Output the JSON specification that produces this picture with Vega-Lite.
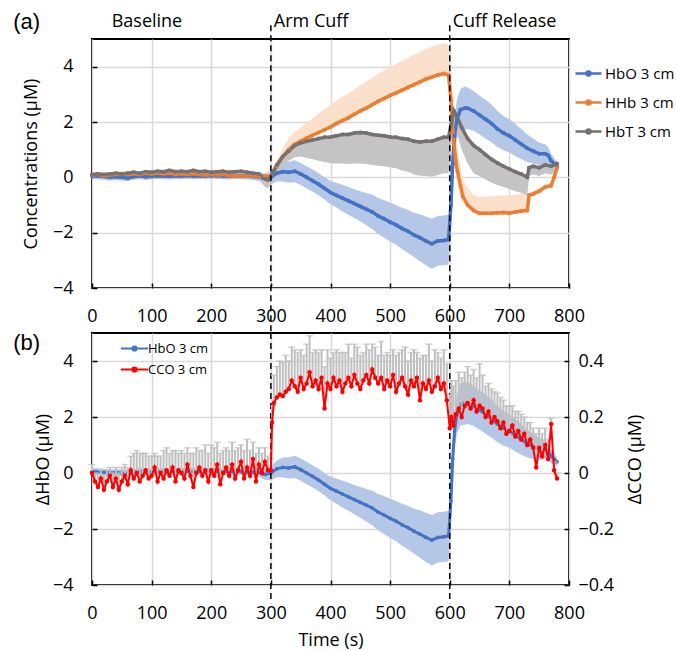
{
  "$schema": "https://vega.github.io/schema/vega-lite/v6.json",
  "padding": {"left": 12, "top": 10, "right": 0, "bottom": 0},
  "background": "white",
  "config": {
    "font": "Open Sans",
    "view": {"stroke": "#000", "strokeWidth": 2},
    "axis": {
      "labelFont": "Open Sans", "labelFontSize": 18, "labelColor": "#000",
      "titleFont": "Open Sans", "titleFontSize": 18, "titleFontWeight": "normal", "titleColor": "#000",
      "gridColor": "#d9d9d9", "gridWidth": 1.5, "domain": false,
      "tickColor": "#000", "tickSize": -5, "tickWidth": 1.5, "labelFlush": false
    },
    "axisX": {"labelPadding": 24},
    "axisY": {"labelPadding": 24},
    "legend": {"labelFont": "Open Sans", "labelColor": "#000", "symbolStrokeWidth": 2.5, "labelOffset": 2}
  },
  "datasets": {
    "hb": [
      {"t":0,"s":"HbO 3 cm","v":0.05,"lo":-0.07,"hi":0.17},{"t":10,"s":"HbO 3 cm","v":0.05,"lo":-0.07,"hi":0.17},{"t":20,"s":"HbO 3 cm","v":0.03,"lo":-0.09,"hi":0.15},{"t":30,"s":"HbO 3 cm","v":0,"lo":-0.12,"hi":0.12},{"t":40,"s":"HbO 3 cm","v":0.02,"lo":-0.1,"hi":0.14},{"t":50,"s":"HbO 3 cm","v":0,"lo":-0.12,"hi":0.12},{"t":60,"s":"HbO 3 cm","v":-0.02,"lo":-0.14,"hi":0.1},{"t":70,"s":"HbO 3 cm","v":0.03,"lo":-0.09,"hi":0.15},{"t":80,"s":"HbO 3 cm","v":0.05,"lo":-0.07,"hi":0.17},{"t":90,"s":"HbO 3 cm","v":0.02,"lo":-0.1,"hi":0.14},{"t":100,"s":"HbO 3 cm","v":0.04,"lo":-0.08,"hi":0.16},{"t":110,"s":"HbO 3 cm","v":0.06,"lo":-0.06,"hi":0.18},{"t":120,"s":"HbO 3 cm","v":0.05,"lo":-0.07,"hi":0.17},{"t":130,"s":"HbO 3 cm","v":0.04,"lo":-0.08,"hi":0.16},{"t":140,"s":"HbO 3 cm","v":0.06,"lo":-0.06,"hi":0.18},{"t":150,"s":"HbO 3 cm","v":0.05,"lo":-0.07,"hi":0.17},{"t":160,"s":"HbO 3 cm","v":0.07,"lo":-0.05,"hi":0.19},{"t":170,"s":"HbO 3 cm","v":0.05,"lo":-0.07,"hi":0.17},{"t":180,"s":"HbO 3 cm","v":0.06,"lo":-0.06,"hi":0.18},{"t":190,"s":"HbO 3 cm","v":0.05,"lo":-0.07,"hi":0.17},{"t":200,"s":"HbO 3 cm","v":0.07,"lo":-0.05,"hi":0.19},{"t":210,"s":"HbO 3 cm","v":0.06,"lo":-0.06,"hi":0.18},{"t":220,"s":"HbO 3 cm","v":0.05,"lo":-0.07,"hi":0.17},{"t":230,"s":"HbO 3 cm","v":0.04,"lo":-0.08,"hi":0.16},{"t":240,"s":"HbO 3 cm","v":0.06,"lo":-0.06,"hi":0.18},{"t":250,"s":"HbO 3 cm","v":0.05,"lo":-0.07,"hi":0.17},{"t":260,"s":"HbO 3 cm","v":0.04,"lo":-0.08,"hi":0.16},{"t":270,"s":"HbO 3 cm","v":0.03,"lo":-0.09,"hi":0.15},{"t":280,"s":"HbO 3 cm","v":0.02,"lo":-0.13,"hi":0.17},{"t":290,"s":"HbO 3 cm","v":-0.05,"lo":-0.25,"hi":0.15},{"t":300,"s":"HbO 3 cm","v":0,"lo":-0.25,"hi":0.25},{"t":310,"s":"HbO 3 cm","v":0.15,"lo":-0.15,"hi":0.45},{"t":320,"s":"HbO 3 cm","v":0.2,"lo":-0.15,"hi":0.55},{"t":330,"s":"HbO 3 cm","v":0.18,"lo":-0.2,"hi":0.56},{"t":340,"s":"HbO 3 cm","v":0.22,"lo":-0.18,"hi":0.62},{"t":350,"s":"HbO 3 cm","v":0.12,"lo":-0.28,"hi":0.52},{"t":360,"s":"HbO 3 cm","v":0,"lo":-0.4,"hi":0.4},{"t":370,"s":"HbO 3 cm","v":-0.12,"lo":-0.52,"hi":0.28},{"t":380,"s":"HbO 3 cm","v":-0.25,"lo":-0.65,"hi":0.15},{"t":390,"s":"HbO 3 cm","v":-0.4,"lo":-0.8,"hi":0},{"t":400,"s":"HbO 3 cm","v":-0.55,"lo":-0.97,"hi":-0.13},{"t":410,"s":"HbO 3 cm","v":-0.65,"lo":-1.1,"hi":-0.2},{"t":420,"s":"HbO 3 cm","v":-0.75,"lo":-1.23,"hi":-0.27},{"t":430,"s":"HbO 3 cm","v":-0.85,"lo":-1.35,"hi":-0.35},{"t":440,"s":"HbO 3 cm","v":-0.95,"lo":-1.47,"hi":-0.43},{"t":450,"s":"HbO 3 cm","v":-1.05,"lo":-1.6,"hi":-0.5},{"t":460,"s":"HbO 3 cm","v":-1.15,"lo":-1.73,"hi":-0.57},{"t":470,"s":"HbO 3 cm","v":-1.25,"lo":-1.87,"hi":-0.63},{"t":480,"s":"HbO 3 cm","v":-1.4,"lo":-2.05,"hi":-0.75},{"t":490,"s":"HbO 3 cm","v":-1.5,"lo":-2.18,"hi":-0.82},{"t":500,"s":"HbO 3 cm","v":-1.62,"lo":-2.32,"hi":-0.92},{"t":510,"s":"HbO 3 cm","v":-1.72,"lo":-2.44,"hi":-1.0},{"t":520,"s":"HbO 3 cm","v":-1.85,"lo":-2.6,"hi":-1.1},{"t":530,"s":"HbO 3 cm","v":-1.95,"lo":-2.73,"hi":-1.17},{"t":540,"s":"HbO 3 cm","v":-2.08,"lo":-2.88,"hi":-1.28},{"t":550,"s":"HbO 3 cm","v":-2.18,"lo":-3.03,"hi":-1.33},{"t":560,"s":"HbO 3 cm","v":-2.3,"lo":-3.18,"hi":-1.42},{"t":570,"s":"HbO 3 cm","v":-2.4,"lo":-3.3,"hi":-1.5},{"t":580,"s":"HbO 3 cm","v":-2.3,"lo":-3.2,"hi":-1.4},{"t":590,"s":"HbO 3 cm","v":-2.28,"lo":-3.18,"hi":-1.38},{"t":598,"s":"HbO 3 cm","v":-2.25,"lo":-3.15,"hi":-1.35},{"t":602,"s":"HbO 3 cm","v":-1.0,"lo":-1.8,"hi":-0.2},{"t":605,"s":"HbO 3 cm","v":0.5,"lo":-0.2,"hi":1.2},{"t":608,"s":"HbO 3 cm","v":1.5,"lo":0.8,"hi":2.2},{"t":612,"s":"HbO 3 cm","v":2.1,"lo":1.4,"hi":2.8},{"t":618,"s":"HbO 3 cm","v":2.45,"lo":1.7,"hi":3.2},{"t":625,"s":"HbO 3 cm","v":2.5,"lo":1.72,"hi":3.28},{"t":630,"s":"HbO 3 cm","v":2.5,"lo":1.75,"hi":3.25},{"t":640,"s":"HbO 3 cm","v":2.4,"lo":1.68,"hi":3.12},{"t":650,"s":"HbO 3 cm","v":2.25,"lo":1.55,"hi":2.95},{"t":660,"s":"HbO 3 cm","v":2.1,"lo":1.4,"hi":2.8},{"t":670,"s":"HbO 3 cm","v":1.95,"lo":1.27,"hi":2.63},{"t":680,"s":"HbO 3 cm","v":1.75,"lo":1.1,"hi":2.4},{"t":690,"s":"HbO 3 cm","v":1.6,"lo":0.98,"hi":2.22},{"t":700,"s":"HbO 3 cm","v":1.5,"lo":0.9,"hi":2.1},{"t":710,"s":"HbO 3 cm","v":1.35,"lo":0.77,"hi":1.93},{"t":720,"s":"HbO 3 cm","v":1.2,"lo":0.65,"hi":1.75},{"t":730,"s":"HbO 3 cm","v":1.05,"lo":0.55,"hi":1.55},{"t":740,"s":"HbO 3 cm","v":0.95,"lo":0.5,"hi":1.4},{"t":750,"s":"HbO 3 cm","v":0.85,"lo":0.45,"hi":1.25},{"t":760,"s":"HbO 3 cm","v":0.85,"lo":0.5,"hi":1.2},{"t":765,"s":"HbO 3 cm","v":0.8,"lo":0.5,"hi":1.1},{"t":770,"s":"HbO 3 cm","v":0.6,"lo":0.35,"hi":0.85},{"t":780,"s":"HbO 3 cm","v":0.4,"lo":0.25,"hi":0.55},

      {"t":0,"s":"HHb 3 cm","v":0.08,"lo":0.08,"hi":0.18},{"t":10,"s":"HHb 3 cm","v":0.1,"lo":0.1,"hi":0.2},{"t":20,"s":"HHb 3 cm","v":0.05,"lo":0.05,"hi":0.15},{"t":30,"s":"HHb 3 cm","v":0.08,"lo":0.08,"hi":0.18},{"t":40,"s":"HHb 3 cm","v":0.1,"lo":0.1,"hi":0.2},{"t":50,"s":"HHb 3 cm","v":0.12,"lo":0.12,"hi":0.22},{"t":60,"s":"HHb 3 cm","v":0.1,"lo":0.1,"hi":0.2},{"t":70,"s":"HHb 3 cm","v":0.12,"lo":0.12,"hi":0.22},{"t":80,"s":"HHb 3 cm","v":0.1,"lo":0.1,"hi":0.2},{"t":90,"s":"HHb 3 cm","v":0.15,"lo":0.15,"hi":0.25},{"t":100,"s":"HHb 3 cm","v":0.12,"lo":0.12,"hi":0.22},{"t":110,"s":"HHb 3 cm","v":0.15,"lo":0.15,"hi":0.25},{"t":120,"s":"HHb 3 cm","v":0.12,"lo":0.12,"hi":0.22},{"t":130,"s":"HHb 3 cm","v":0.15,"lo":0.15,"hi":0.25},{"t":140,"s":"HHb 3 cm","v":0.1,"lo":0.1,"hi":0.2},{"t":150,"s":"HHb 3 cm","v":0.12,"lo":0.12,"hi":0.22},{"t":160,"s":"HHb 3 cm","v":0.1,"lo":0.1,"hi":0.2},{"t":170,"s":"HHb 3 cm","v":0.12,"lo":0.12,"hi":0.22},{"t":180,"s":"HHb 3 cm","v":0.1,"lo":0.1,"hi":0.2},{"t":190,"s":"HHb 3 cm","v":0.08,"lo":0.08,"hi":0.18},{"t":200,"s":"HHb 3 cm","v":0.1,"lo":0.1,"hi":0.2},{"t":210,"s":"HHb 3 cm","v":0.08,"lo":0.08,"hi":0.18},{"t":220,"s":"HHb 3 cm","v":0.1,"lo":0.1,"hi":0.2},{"t":230,"s":"HHb 3 cm","v":0.05,"lo":0.05,"hi":0.15},{"t":240,"s":"HHb 3 cm","v":0.06,"lo":0.06,"hi":0.16},{"t":250,"s":"HHb 3 cm","v":0.05,"lo":0.05,"hi":0.15},{"t":260,"s":"HHb 3 cm","v":0.04,"lo":0.04,"hi":0.14},{"t":270,"s":"HHb 3 cm","v":0.05,"lo":0.05,"hi":0.15},{"t":280,"s":"HHb 3 cm","v":0.02,"lo":0.02,"hi":0.12},{"t":290,"s":"HHb 3 cm","v":0.05,"lo":0.05,"hi":0.15},{"t":300,"s":"HHb 3 cm","v":0.05,"lo":0.05,"hi":0.15},{"t":310,"s":"HHb 3 cm","v":0.4,"lo":0.4,"hi":0.6},{"t":320,"s":"HHb 3 cm","v":0.75,"lo":0.75,"hi":1.05},{"t":330,"s":"HHb 3 cm","v":1.0,"lo":1.0,"hi":1.4},{"t":340,"s":"HHb 3 cm","v":1.2,"lo":1.2,"hi":1.65},{"t":350,"s":"HHb 3 cm","v":1.3,"lo":1.3,"hi":1.8},{"t":360,"s":"HHb 3 cm","v":1.42,"lo":1.42,"hi":1.97},{"t":370,"s":"HHb 3 cm","v":1.52,"lo":1.52,"hi":2.14},{"t":380,"s":"HHb 3 cm","v":1.62,"lo":1.62,"hi":2.32},{"t":390,"s":"HHb 3 cm","v":1.72,"lo":1.72,"hi":2.47},{"t":400,"s":"HHb 3 cm","v":1.82,"lo":1.82,"hi":2.62},{"t":410,"s":"HHb 3 cm","v":1.95,"lo":1.95,"hi":2.78},{"t":420,"s":"HHb 3 cm","v":2.05,"lo":2.05,"hi":2.91},{"t":430,"s":"HHb 3 cm","v":2.15,"lo":2.15,"hi":3.03},{"t":440,"s":"HHb 3 cm","v":2.28,"lo":2.28,"hi":3.18},{"t":450,"s":"HHb 3 cm","v":2.4,"lo":2.4,"hi":3.33},{"t":460,"s":"HHb 3 cm","v":2.5,"lo":2.5,"hi":3.46},{"t":470,"s":"HHb 3 cm","v":2.62,"lo":2.62,"hi":3.6},{"t":480,"s":"HHb 3 cm","v":2.75,"lo":2.75,"hi":3.75},{"t":490,"s":"HHb 3 cm","v":2.85,"lo":2.85,"hi":3.87},{"t":500,"s":"HHb 3 cm","v":2.96,"lo":2.96,"hi":4.0},{"t":510,"s":"HHb 3 cm","v":3.05,"lo":3.05,"hi":4.1},{"t":520,"s":"HHb 3 cm","v":3.15,"lo":3.15,"hi":4.21},{"t":530,"s":"HHb 3 cm","v":3.25,"lo":3.25,"hi":4.32},{"t":540,"s":"HHb 3 cm","v":3.35,"lo":3.35,"hi":4.43},{"t":550,"s":"HHb 3 cm","v":3.45,"lo":3.45,"hi":4.54},{"t":560,"s":"HHb 3 cm","v":3.55,"lo":3.55,"hi":4.65},{"t":570,"s":"HHb 3 cm","v":3.62,"lo":3.62,"hi":4.72},{"t":580,"s":"HHb 3 cm","v":3.7,"lo":3.7,"hi":4.8},{"t":590,"s":"HHb 3 cm","v":3.75,"lo":3.75,"hi":4.85},{"t":598,"s":"HHb 3 cm","v":3.7,"lo":3.7,"hi":4.8},{"t":602,"s":"HHb 3 cm","v":2.8,"lo":2.8,"hi":3.8},{"t":605,"s":"HHb 3 cm","v":1.7,"lo":1.7,"hi":2.6},{"t":610,"s":"HHb 3 cm","v":0.6,"lo":0.6,"hi":1.4},{"t":613,"s":"HHb 3 cm","v":0.2,"lo":0.2,"hi":1.0},{"t":618,"s":"HHb 3 cm","v":-0.3,"lo":-0.3,"hi":0.4},{"t":622,"s":"HHb 3 cm","v":-0.7,"lo":-0.7,"hi":-0.05},{"t":630,"s":"HHb 3 cm","v":-1.0,"lo":-1.0,"hi":-0.4},{"t":640,"s":"HHb 3 cm","v":-1.2,"lo":-1.2,"hi":-0.62},{"t":650,"s":"HHb 3 cm","v":-1.3,"lo":-1.3,"hi":-0.72},{"t":660,"s":"HHb 3 cm","v":-1.3,"lo":-1.3,"hi":-0.7},{"t":670,"s":"HHb 3 cm","v":-1.3,"lo":-1.3,"hi":-0.68},{"t":680,"s":"HHb 3 cm","v":-1.28,"lo":-1.28,"hi":-0.66},{"t":690,"s":"HHb 3 cm","v":-1.27,"lo":-1.27,"hi":-0.65},{"t":700,"s":"HHb 3 cm","v":-1.3,"lo":-1.3,"hi":-0.66},{"t":710,"s":"HHb 3 cm","v":-1.25,"lo":-1.25,"hi":-0.63},{"t":720,"s":"HHb 3 cm","v":-1.22,"lo":-1.22,"hi":-0.6},{"t":730,"s":"HHb 3 cm","v":-1.2,"lo":-1.2,"hi":-0.58},{"t":733,"s":"HHb 3 cm","v":-0.65,"lo":-0.65,"hi":-0.55},{"t":740,"s":"HHb 3 cm","v":-0.6,"lo":-0.6,"hi":-0.5},{"t":750,"s":"HHb 3 cm","v":-0.5,"lo":-0.5,"hi":-0.4},{"t":760,"s":"HHb 3 cm","v":-0.35,"lo":-0.35,"hi":-0.25},{"t":770,"s":"HHb 3 cm","v":-0.3,"lo":-0.3,"hi":-0.2},{"t":775,"s":"HHb 3 cm","v":0.0,"lo":0.0,"hi":0.1},{"t":780,"s":"HHb 3 cm","v":0.35,"lo":0.35,"hi":0.45},

      {"t":0,"s":"HbT 3 cm","v":0.1,"lo":-0.02,"hi":0.1},{"t":10,"s":"HbT 3 cm","v":0.12,"lo":0,"hi":0.12},{"t":20,"s":"HbT 3 cm","v":0.1,"lo":-0.02,"hi":0.1},{"t":30,"s":"HbT 3 cm","v":0.12,"lo":0,"hi":0.12},{"t":40,"s":"HbT 3 cm","v":0.15,"lo":0.03,"hi":0.15},{"t":50,"s":"HbT 3 cm","v":0.12,"lo":0,"hi":0.12},{"t":60,"s":"HbT 3 cm","v":0.15,"lo":0.03,"hi":0.15},{"t":70,"s":"HbT 3 cm","v":0.18,"lo":0.06,"hi":0.18},{"t":80,"s":"HbT 3 cm","v":0.15,"lo":0.03,"hi":0.15},{"t":90,"s":"HbT 3 cm","v":0.2,"lo":0.08,"hi":0.2},{"t":100,"s":"HbT 3 cm","v":0.18,"lo":0.06,"hi":0.18},{"t":110,"s":"HbT 3 cm","v":0.22,"lo":0.1,"hi":0.22},{"t":120,"s":"HbT 3 cm","v":0.2,"lo":0.08,"hi":0.2},{"t":130,"s":"HbT 3 cm","v":0.25,"lo":0.13,"hi":0.25},{"t":140,"s":"HbT 3 cm","v":0.2,"lo":0.08,"hi":0.2},{"t":150,"s":"HbT 3 cm","v":0.22,"lo":0.1,"hi":0.22},{"t":160,"s":"HbT 3 cm","v":0.2,"lo":0.08,"hi":0.2},{"t":170,"s":"HbT 3 cm","v":0.25,"lo":0.13,"hi":0.25},{"t":180,"s":"HbT 3 cm","v":0.2,"lo":0.08,"hi":0.2},{"t":190,"s":"HbT 3 cm","v":0.22,"lo":0.1,"hi":0.22},{"t":200,"s":"HbT 3 cm","v":0.18,"lo":0.06,"hi":0.18},{"t":210,"s":"HbT 3 cm","v":0.2,"lo":0.08,"hi":0.2},{"t":220,"s":"HbT 3 cm","v":0.22,"lo":0.1,"hi":0.22},{"t":230,"s":"HbT 3 cm","v":0.18,"lo":0.06,"hi":0.18},{"t":240,"s":"HbT 3 cm","v":0.2,"lo":0.08,"hi":0.2},{"t":250,"s":"HbT 3 cm","v":0.22,"lo":0.1,"hi":0.22},{"t":260,"s":"HbT 3 cm","v":0.18,"lo":0.06,"hi":0.18},{"t":270,"s":"HbT 3 cm","v":0.15,"lo":0.03,"hi":0.15},{"t":280,"s":"HbT 3 cm","v":0.12,"lo":-0.08,"hi":0.12},{"t":290,"s":"HbT 3 cm","v":-0.05,"lo":-0.35,"hi":-0.05},{"t":295,"s":"HbT 3 cm","v":-0.1,"lo":-0.4,"hi":-0.1},{"t":300,"s":"HbT 3 cm","v":0.05,"lo":-0.25,"hi":0.05},{"t":310,"s":"HbT 3 cm","v":0.45,"lo":0.15,"hi":0.45},{"t":320,"s":"HbT 3 cm","v":0.75,"lo":0.45,"hi":0.75},{"t":330,"s":"HbT 3 cm","v":0.95,"lo":0.6,"hi":0.95},{"t":340,"s":"HbT 3 cm","v":1.15,"lo":0.73,"hi":1.15},{"t":350,"s":"HbT 3 cm","v":1.25,"lo":0.75,"hi":1.25},{"t":360,"s":"HbT 3 cm","v":1.3,"lo":0.7,"hi":1.3},{"t":370,"s":"HbT 3 cm","v":1.35,"lo":0.65,"hi":1.35},{"t":380,"s":"HbT 3 cm","v":1.4,"lo":0.6,"hi":1.4},{"t":390,"s":"HbT 3 cm","v":1.45,"lo":0.55,"hi":1.45},{"t":400,"s":"HbT 3 cm","v":1.46,"lo":0.51,"hi":1.46},{"t":410,"s":"HbT 3 cm","v":1.5,"lo":0.5,"hi":1.5},{"t":420,"s":"HbT 3 cm","v":1.55,"lo":0.5,"hi":1.55},{"t":430,"s":"HbT 3 cm","v":1.55,"lo":0.48,"hi":1.55},{"t":440,"s":"HbT 3 cm","v":1.6,"lo":0.5,"hi":1.6},{"t":450,"s":"HbT 3 cm","v":1.62,"lo":0.5,"hi":1.62},{"t":460,"s":"HbT 3 cm","v":1.6,"lo":0.48,"hi":1.6},{"t":470,"s":"HbT 3 cm","v":1.55,"lo":0.45,"hi":1.55},{"t":480,"s":"HbT 3 cm","v":1.52,"lo":0.42,"hi":1.52},{"t":490,"s":"HbT 3 cm","v":1.5,"lo":0.4,"hi":1.5},{"t":500,"s":"HbT 3 cm","v":1.46,"lo":0.36,"hi":1.46},{"t":510,"s":"HbT 3 cm","v":1.45,"lo":0.33,"hi":1.45},{"t":520,"s":"HbT 3 cm","v":1.4,"lo":0.25,"hi":1.4},{"t":530,"s":"HbT 3 cm","v":1.38,"lo":0.2,"hi":1.38},{"t":540,"s":"HbT 3 cm","v":1.3,"lo":0.1,"hi":1.3},{"t":550,"s":"HbT 3 cm","v":1.28,"lo":0.06,"hi":1.28},{"t":560,"s":"HbT 3 cm","v":1.3,"lo":0.05,"hi":1.3},{"t":570,"s":"HbT 3 cm","v":1.3,"lo":0.02,"hi":1.3},{"t":580,"s":"HbT 3 cm","v":1.38,"lo":0.08,"hi":1.38},{"t":590,"s":"HbT 3 cm","v":1.45,"lo":0.15,"hi":1.45},{"t":598,"s":"HbT 3 cm","v":1.45,"lo":0.15,"hi":1.45},{"t":602,"s":"HbT 3 cm","v":1.9,"lo":1.1,"hi":1.9},{"t":607,"s":"HbT 3 cm","v":2.4,"lo":1.9,"hi":2.4},{"t":612,"s":"HbT 3 cm","v":2.2,"lo":1.6,"hi":2.2},{"t":620,"s":"HbT 3 cm","v":1.8,"lo":1.0,"hi":1.8},{"t":630,"s":"HbT 3 cm","v":1.4,"lo":0.5,"hi":1.4},{"t":640,"s":"HbT 3 cm","v":1.15,"lo":0.15,"hi":1.15},{"t":650,"s":"HbT 3 cm","v":1.0,"lo":0.05,"hi":1.0},{"t":660,"s":"HbT 3 cm","v":0.82,"lo":-0.08,"hi":0.82},{"t":670,"s":"HbT 3 cm","v":0.65,"lo":-0.2,"hi":0.65},{"t":680,"s":"HbT 3 cm","v":0.52,"lo":-0.28,"hi":0.52},{"t":690,"s":"HbT 3 cm","v":0.4,"lo":-0.35,"hi":0.4},{"t":700,"s":"HbT 3 cm","v":0.3,"lo":-0.42,"hi":0.3},{"t":710,"s":"HbT 3 cm","v":0.2,"lo":-0.5,"hi":0.2},{"t":720,"s":"HbT 3 cm","v":0.12,"lo":-0.56,"hi":0.12},{"t":730,"s":"HbT 3 cm","v":0.0,"lo":-0.65,"hi":0.0},{"t":733,"s":"HbT 3 cm","v":0.35,"lo":0.05,"hi":0.35},{"t":740,"s":"HbT 3 cm","v":0.4,"lo":0.1,"hi":0.4},{"t":750,"s":"HbT 3 cm","v":0.35,"lo":0.05,"hi":0.35},{"t":760,"s":"HbT 3 cm","v":0.45,"lo":0.15,"hi":0.45},{"t":770,"s":"HbT 3 cm","v":0.4,"lo":0.1,"hi":0.4},{"t":780,"s":"HbT 3 cm","v":0.5,"lo":0.2,"hi":0.5}
    ],
    "cco": [
      {"t":0,"c":0.0,"h":0.03},{"t":5,"c":-0.03,"h":0.0},{"t":10,"c":-0.05,"h":-0.01},{"t":15,"c":-0.02,"h":0.01},{"t":20,"c":-0.06,"h":-0.01},{"t":25,"c":-0.03,"h":0.01},{"t":30,"c":-0.01,"h":0.02},{"t":35,"c":-0.05,"h":0.0},{"t":40,"c":-0.02,"h":0.02},{"t":45,"c":-0.06,"h":0.0},{"t":50,"c":-0.03,"h":0.02},{"t":55,"c":-0.01,"h":0.03},{"t":60,"c":-0.04,"h":0.02},{"t":65,"c":0.01,"h":0.06},{"t":70,"c":-0.02,"h":0.07},{"t":75,"c":0.0,"h":0.08},{"t":80,"c":-0.03,"h":0.07},{"t":85,"c":-0.01,"h":0.07},{"t":90,"c":0.01,"h":0.07},{"t":95,"c":-0.02,"h":0.06},{"t":100,"c":-0.01,"h":0.06},{"t":105,"c":0.02,"h":0.07},{"t":110,"c":-0.03,"h":0.06},{"t":115,"c":0.0,"h":0.06},{"t":120,"c":-0.02,"h":0.08},{"t":125,"c":0.01,"h":0.09},{"t":130,"c":-0.01,"h":0.07},{"t":135,"c":0.02,"h":0.08},{"t":140,"c":-0.03,"h":0.08},{"t":145,"c":0.01,"h":0.07},{"t":150,"c":0.0,"h":0.08},{"t":155,"c":-0.02,"h":0.07},{"t":160,"c":0.03,"h":0.09},{"t":165,"c":-0.01,"h":0.07},{"t":170,"c":-0.05,"h":0.07},{"t":175,"c":0.0,"h":0.09},{"t":180,"c":0.02,"h":0.08},{"t":185,"c":-0.01,"h":0.08},{"t":190,"c":0.01,"h":0.1},{"t":195,"c":-0.03,"h":0.07},{"t":200,"c":0.01,"h":0.1},{"t":205,"c":-0.01,"h":0.09},{"t":210,"c":0.03,"h":0.11},{"t":215,"c":-0.04,"h":0.07},{"t":220,"c":0.0,"h":0.08},{"t":225,"c":0.02,"h":0.09},{"t":230,"c":-0.01,"h":0.08},{"t":235,"c":0.03,"h":0.11},{"t":240,"c":-0.02,"h":0.08},{"t":245,"c":0.01,"h":0.09},{"t":250,"c":0.04,"h":0.1},{"t":255,"c":-0.02,"h":0.08},{"t":260,"c":0.02,"h":0.12},{"t":265,"c":-0.01,"h":0.08},{"t":270,"c":0.05,"h":0.11},{"t":275,"c":-0.03,"h":0.07},{"t":280,"c":0.03,"h":0.09},{"t":285,"c":0.0,"h":0.07},{"t":290,"c":0.04,"h":0.09},{"t":295,"c":0.01,"h":0.06},{"t":300,"c":0.01,"h":0.05},
      {"t":302,"c":0.18,"h":0.24},{"t":305,"c":0.25,"h":0.35},{"t":310,"c":0.27,"h":0.38},{"t":315,"c":0.28,"h":0.4},{"t":320,"c":0.275,"h":0.395},{"t":325,"c":0.29,"h":0.42},{"t":330,"c":0.3,"h":0.4},{"t":335,"c":0.33,"h":0.45},{"t":340,"c":0.31,"h":0.44},{"t":345,"c":0.29,"h":0.43},{"t":350,"c":0.34,"h":0.44},{"t":355,"c":0.3,"h":0.42},{"t":360,"c":0.32,"h":0.46},{"t":365,"c":0.36,"h":0.49},{"t":370,"c":0.31,"h":0.43},{"t":375,"c":0.33,"h":0.44},{"t":380,"c":0.3,"h":0.43},{"t":385,"c":0.34,"h":0.44},{"t":390,"c":0.23,"h":0.38},{"t":395,"c":0.32,"h":0.44},{"t":400,"c":0.3,"h":0.41},{"t":405,"c":0.34,"h":0.43},{"t":410,"c":0.31,"h":0.44},{"t":415,"c":0.33,"h":0.43},{"t":420,"c":0.29,"h":0.43},{"t":425,"c":0.32,"h":0.43},{"t":430,"c":0.34,"h":0.46},{"t":435,"c":0.31,"h":0.41},{"t":440,"c":0.35,"h":0.46},{"t":445,"c":0.32,"h":0.45},{"t":450,"c":0.3,"h":0.42},{"t":455,"c":0.33,"h":0.43},{"t":460,"c":0.35,"h":0.46},{"t":465,"c":0.32,"h":0.44},{"t":470,"c":0.37,"h":0.46},{"t":475,"c":0.34,"h":0.45},{"t":480,"c":0.32,"h":0.42},{"t":485,"c":0.34,"h":0.47},{"t":490,"c":0.3,"h":0.42},{"t":495,"c":0.33,"h":0.43},{"t":500,"c":0.31,"h":0.42},{"t":505,"c":0.35,"h":0.44},{"t":510,"c":0.29,"h":0.42},{"t":515,"c":0.32,"h":0.43},{"t":520,"c":0.34,"h":0.44},{"t":525,"c":0.31,"h":0.45},{"t":530,"c":0.28,"h":0.4},{"t":535,"c":0.33,"h":0.43},{"t":540,"c":0.31,"h":0.44},{"t":545,"c":0.34,"h":0.43},{"t":550,"c":0.26,"h":0.41},{"t":555,"c":0.32,"h":0.42},{"t":560,"c":0.3,"h":0.42},{"t":565,"c":0.33,"h":0.46},{"t":570,"c":0.29,"h":0.4},{"t":575,"c":0.31,"h":0.44},{"t":580,"c":0.34,"h":0.43},{"t":585,"c":0.3,"h":0.41},{"t":590,"c":0.32,"h":0.44},{"t":595,"c":0.26,"h":0.39},
      {"t":600,"c":0.16,"h":0.28},{"t":603,"c":0.2,"h":0.33},{"t":606,"c":0.17,"h":0.31},{"t":610,"c":0.21,"h":0.33},{"t":615,"c":0.23,"h":0.36},{"t":620,"c":0.2,"h":0.34},{"t":625,"c":0.24,"h":0.36},{"t":630,"c":0.25,"h":0.38},{"t":635,"c":0.23,"h":0.35},{"t":640,"c":0.26,"h":0.37},{"t":645,"c":0.22,"h":0.34},{"t":650,"c":0.24,"h":0.39},{"t":655,"c":0.23,"h":0.35},{"t":660,"c":0.2,"h":0.31},{"t":665,"c":0.22,"h":0.32},{"t":670,"c":0.18,"h":0.3},{"t":675,"c":0.2,"h":0.29},{"t":680,"c":0.185,"h":0.285},{"t":685,"c":0.16,"h":0.27},{"t":690,"c":0.18,"h":0.26},{"t":695,"c":0.14,"h":0.24},{"t":700,"c":0.15,"h":0.24},{"t":705,"c":0.17,"h":0.24},{"t":710,"c":0.13,"h":0.22},{"t":715,"c":0.15,"h":0.22},{"t":720,"c":0.12,"h":0.21},{"t":725,"c":0.14,"h":0.2},{"t":730,"c":0.1,"h":0.18},{"t":735,"c":0.12,"h":0.18},{"t":740,"c":0.09,"h":0.16},{"t":745,"c":0.02,"h":0.14},{"t":750,"c":0.09,"h":0.16},{"t":755,"c":0.06,"h":0.14},{"t":760,"c":0.1,"h":0.16},{"t":765,"c":0.05,"h":0.12},{"t":770,"c":0.175,"h":0.195},{"t":775,"c":0.01,"h":0.04},{"t":780,"c":-0.02,"h":0.0}
    ],
    "marks": [{"t": 300}, {"t": 600}],
    "phases": [
      {"t": 33, "label": "Baseline"},
      {"t": 305, "label": "Arm Cuff"},
      {"t": 605, "label": "Cuff Release"}
    ]
  },
  "vconcat": [
    {
      "width": 477,
      "height": 249,
      "layer": [
        {
          "data": {"name": "hb"},
          "transform": [{"filter": "datum.s == 'HbO 3 cm'"}],
          "mark": {"type": "area", "color": "#b4c7e7"},
          "encoding": {
            "x": {"field": "t", "type": "quantitative", "scale": {"domain": [0, 800], "nice": false},
                  "axis": {"title": null, "values": [0,100,200,300,400,500,600,700,800]}},
            "y": {"field": "lo", "type": "quantitative", "scale": {"domain": [-4, 5], "nice": false, "zero": false},
                  "axis": {"title": "Concentrations (μM)", "values": [-4,-2,0,2,4], "titlePadding": 12}},
            "y2": {"field": "hi"}
          }
        },
        {
          "data": {"name": "hb"},
          "transform": [{"filter": "datum.s == 'HHb 3 cm'"}],
          "mark": {"type": "area", "color": "#fbe0cc"},
          "encoding": {
            "x": {"field": "t", "type": "quantitative"},
            "y": {"field": "lo", "type": "quantitative"},
            "y2": {"field": "hi"}
          }
        },
        {
          "data": {"name": "hb"},
          "transform": [{"filter": "datum.s == 'HbT 3 cm'"}],
          "mark": {"type": "area", "color": "#c4c4c4"},
          "encoding": {
            "x": {"field": "t", "type": "quantitative"},
            "y": {"field": "lo", "type": "quantitative"},
            "y2": {"field": "hi"}
          }
        },
        {
          "data": {"name": "hb"},
          "mark": {"type": "line", "strokeWidth": 3.5, "point": {"filled": true, "size": 16}},
          "encoding": {
            "x": {"field": "t", "type": "quantitative"},
            "y": {"field": "v", "type": "quantitative"},
            "color": {"field": "s", "type": "nominal",
                      "scale": {"domain": ["HbO 3 cm", "HHb 3 cm", "HbT 3 cm"], "range": ["#4472c4", "#ed7d31", "#767171"]},
                      "legend": {"title": null, "orient": "none", "legendX": 482, "legendY": 20,
                                 "labelFontSize": 15, "rowPadding": 6,
                                 "symbolType": "M-1,0H1M-0.15,0A0.15,0.15 0 1,1 0.15,0A0.15,0.15 0 1,1 -0.15,0",
                                 "symbolSize": 676}}
          }
        },
        {
          "data": {"name": "marks"},
          "mark": {"type": "rule", "strokeDash": [6, 4], "strokeWidth": 1.5, "color": "#000"},
          "encoding": {
            "x": {"field": "t", "type": "quantitative"},
            "y": {"datum": 5.5},
            "y2": {"datum": -5.6}
          }
        },
        {
          "data": {"name": "phases"},
          "mark": {"type": "text", "align": "left", "baseline": "middle", "fontSize": 18, "font": "Open Sans", "color": "#000"},
          "encoding": {
            "x": {"field": "t", "type": "quantitative"},
            "y": {"datum": 5.6},
            "text": {"field": "label"}
          }
        },
        {
          "data": {"values": [{"label": "(a)"}]},
          "mark": {"type": "text", "align": "left", "baseline": "middle", "fontSize": 22, "font": "Liberation Sans", "color": "#000"},
          "encoding": {
            "x": {"datum": -132},
            "y": {"datum": 5.6},
            "text": {"field": "label"}
          }
        }
      ]
    },
    {
      "width": 477,
      "height": 252,
      "layer": [
        {
          "layer": [
            {
              "data": {"name": "hb"},
              "transform": [{"filter": "datum.s == 'HbO 3 cm'"}],
              "mark": {"type": "area", "color": "#b4c7e7"},
              "encoding": {
                "x": {"field": "t", "type": "quantitative", "scale": {"domain": [0, 800], "nice": false},
                      "axis": {"title": "Time (s)", "values": [0,100,200,300,400,500,600,700,800], "titlePadding": 9}},
                "y": {"field": "lo", "type": "quantitative", "scale": {"domain": [-4, 5], "nice": false, "zero": false},
                      "axis": {"title": "ΔHbO (μM)", "orient": "left", "values": [-4,-2,0,2,4], "titlePadding": 0}},
                "y2": {"field": "hi"}
              }
            },
            {
              "data": {"name": "hb"},
              "transform": [{"filter": "datum.s == 'HbO 3 cm'"}],
              "mark": {"type": "line", "strokeWidth": 3, "point": {"filled": true, "size": 14}},
              "encoding": {
                "x": {"field": "t", "type": "quantitative"},
                "y": {"field": "v", "type": "quantitative"},
                "color": {"field": "s", "type": "nominal",
                          "scale": {"domain": ["HbO 3 cm", "CCO 3 cm"], "range": ["#4472c4", "#ff0000"]},
                          "legend": {"title": null, "orient": "none", "legendX": 31, "legendY": 4,
                                     "labelFontSize": 13, "rowPadding": 2,
                                     "symbolType": "M-1.3,0H1.3M-0.2,0A0.2,0.2 0 1,1 0.2,0A0.2,0.2 0 1,1 -0.2,0",
                                     "symbolSize": 441, "symbolStrokeWidth": 2}}
              }
            },
            {
              "data": {"name": "marks"},
              "mark": {"type": "rule", "strokeDash": [6, 4], "strokeWidth": 1.5, "color": "#000"},
              "encoding": {
                "x": {"field": "t", "type": "quantitative"},
                "y": {"datum": 5},
                "y2": {"datum": -4.65}
              }
            },
            {
              "data": {"values": [{"label": "(b)"}]},
              "mark": {"type": "text", "align": "left", "baseline": "middle", "fontSize": 22, "font": "Liberation Sans", "color": "#000"},
              "encoding": {
                "x": {"datum": -132},
                "y": {"datum": 4.63},
                "text": {"field": "label"}
              }
            }
          ]
        },
        {
          "layer": [
            {
              "data": {"name": "cco"},
              "mark": {"type": "rule", "color": "#bfbfbf", "strokeWidth": 2},
              "encoding": {
                "x": {"field": "t", "type": "quantitative"},
                "y": {"field": "c", "type": "quantitative", "scale": {"domain": [-0.4, 0.5], "nice": false, "zero": false},
                      "axis": {"title": "ΔCCO (μM)", "orient": "right", "values": [-0.4,-0.2,0,0.2,0.4], "grid": false,
                               "labelPadding": 14, "titleAngle": 270, "titleBaseline": "top",
                               "labelExpr": "datum.value == 0 ? '0' : format(datum.value, '.1f')", "titlePadding": 13}},
                "y2": {"field": "h"}
              }
            },
            {
              "data": {"name": "cco"},
              "mark": {"type": "tick", "orient": "horizontal", "color": "#bfbfbf", "thickness": 1.5, "size": 7},
              "encoding": {
                "x": {"field": "t", "type": "quantitative"},
                "y": {"field": "h", "type": "quantitative"}
              }
            },
            {
              "data": {"name": "cco"},
              "mark": {"type": "line", "strokeWidth": 2, "color": "#ff0000", "point": {"filled": true, "size": 20}},
              "encoding": {
                "x": {"field": "t", "type": "quantitative"},
                "y": {"field": "c", "type": "quantitative"},
                "color": {"datum": "CCO 3 cm"}
              }
            }
          ]
        }
      ],
      "resolve": {"scale": {"y": "independent"}}
    }
  ],
  "spacing": 45,
  "bounds": "flush",
  "resolve": {
    "scale": {"color": "independent", "y": "independent", "x": "independent"},
    "legend": {"color": "independent"}
  }
}
